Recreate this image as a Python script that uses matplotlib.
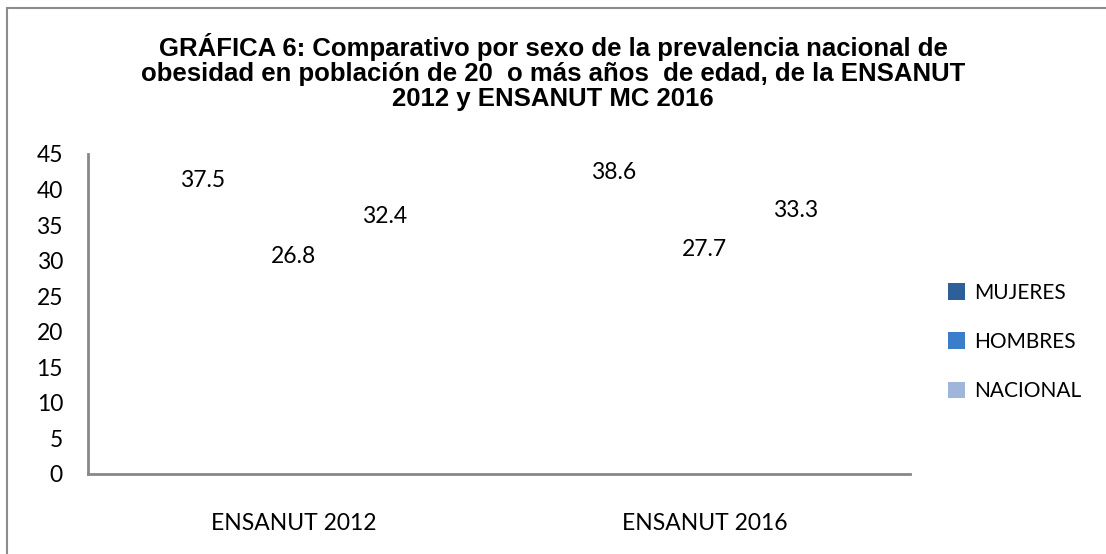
import matplotlib
matplotlib.use("Agg")
import matplotlib.pyplot as plt
from matplotlib.patches import Patch, Rectangle
import numpy as np

categories = ["ENSANUT 2012", "ENSANUT 2016"]
series = ["MUJERES", "HOMBRES", "NACIONAL"]
mujeres = [37.5, 38.6]
hombres = [26.8, 27.7]
nacional = [32.4, 33.3]
colors = ["#2F5F98", "#3A7DCB", "#9FB5DA"]
yticks = [0, 5, 10, 15, 20, 25, 30, 35, 40, 45]
title = ("GRÁFICA 6: Comparativo por sexo de la prevalencia nacional de\n"
         "obesidad en población de 20  o más años  de edad, de la ENSANUT\n"
         "2012 y ENSANUT MC 2016")

W, H = 1106, 554
fig = plt.figure(figsize=(W / 100, H / 100), dpi=100)
fig.patch.set_facecolor("white")

# outer frame
fig.patches.append(Rectangle((7 / W, -0.05), 1.2, 1 - 8 / H + 0.05,
                             transform=fig.transFigure, fill=False,
                             edgecolor="#8C8C8C", linewidth=1.5))

ax = fig.add_axes([88 / W, 1 - 474 / H, (910 - 88) / W, (474 - 154) / H])
x = np.arange(len(categories))
w = 1 / 4.5
for i, (vals, c) in enumerate(zip([mujeres, hombres, nacional], colors)):
    bars = ax.bar(x + (i - 1) * w, vals, w, color=c, alpha=0.0)
    for b, v in zip(bars, vals):
        ax.annotate(f"{v}", (b.get_x() + b.get_width() / 2, v),
                    xytext=(0, 19.5), textcoords="offset points",
                    ha="center", va="center", fontsize=16.5,
                    family="Lato", color="black")

ax.set_xlim(-0.5, 1.5)
ax.set_ylim(0, 45)
ax.set_yticks(yticks)
ax.set_xticks(x)
ax.set_xticklabels(categories, family="Lato", fontsize=16.5)
for lab in ax.get_yticklabels():
    lab.set_family("Lato")
    lab.set_fontsize(16.5)
ax.tick_params(axis="both", length=0)
ax.tick_params(axis="y", pad=18)
ax.tick_params(axis="x", pad=28)
for s in ["top", "right"]:
    ax.spines[s].set_visible(False)
for s in ["left", "bottom"]:
    ax.spines[s].set_color("#888888")
    ax.spines[s].set_linewidth(2)

handles = [Patch(facecolor=c, edgecolor="none") for c in colors]
leg = fig.legend(handles, series, loc="center left",
                 bbox_to_anchor=(929 / W, 1 - 342 / H), frameon=False,
                 prop={"family": "Lato", "size": 15},
                 handlelength=0.85, handleheight=0.85, handletextpad=0.4,
                 labelspacing=1.4)

fig.text(0.5, 1 - 72 / H, title, ha="center", va="center",
         family="Liberation Sans", fontweight="bold", fontsize=18.5,
         linespacing=1.06)

fig.savefig("out.png", dpi=100)
